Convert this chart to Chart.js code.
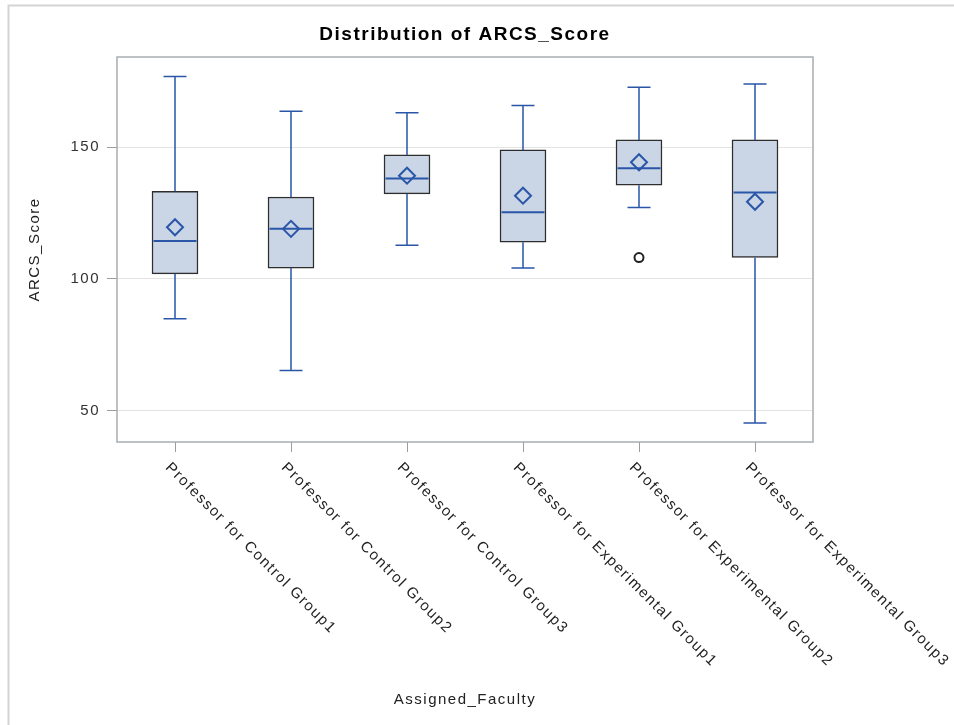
<!DOCTYPE html>
<html><head><meta charset="utf-8">
<script src="https://cdn.jsdelivr.net/npm/chart.js@4"></script>
<style>html,body{margin:0;padding:0;background:#fff}#wrap{width:954px;height:725px;position:relative}canvas{display:block}</style>
</head><body><div id="wrap"><canvas id="c" width="954" height="725"></canvas></div>
<script>
const categories = ['Professor for Control Group1','Professor for Control Group2','Professor for Control Group3','Professor for Experimental Group1','Professor for Experimental Group2','Professor for Experimental Group3'];
const whiskerLow  = [84.8, 65.2, 112.8, 104.1, 127.1, 45.2];
const q1          = [101.9, 104.1, 132.3, 113.9, 135.6, 108.1];
const median      = [114.4, 119.0, 138.1, 125.3, 142.0, 132.8];
const q3          = [133.3, 131.1, 147.1, 149.0, 152.8, 152.8];
const whiskerHigh = [176.9, 163.7, 163.1, 165.9, 172.8, 174.0];
const means       = [119.6, 119.0, 139.2, 131.6, 144.3, 129.3];
const outliers    = [null, null, null, null, 108.1, null];
const yTicks = [50, 100, 150];
const chartTitle = 'Distribution of ARCS_Score';
const xTitle = 'Assigned_Faculty';
const yTitle = 'ARCS_Score';

const BLUE = '#2A56A8';
const FONT = "'Liberation Sans', Arial, sans-serif";

const boxPlugin = {
  id: 'boxplot',
  beforeDraw(chart) {
    const ctx = chart.ctx;
    ctx.save();
    ctx.fillStyle = '#fff';
    ctx.fillRect(0, 0, chart.width, chart.height);
    ctx.strokeStyle = '#D4D4D4';
    ctx.lineWidth = 2;
    ctx.beginPath();
    ctx.moveTo(8.5, chart.height);
    ctx.lineTo(8.5, 5.5);
    ctx.lineTo(chart.width, 5.5);
    ctx.stroke();
    ctx.restore();
    ctx.letterSpacing = '1.5px';
  },
  beforeDatasetsDraw(chart) {
    const ctx = chart.ctx, a = chart.chartArea;
    ctx.save();
    ctx.strokeStyle = '#A9ADB1';
    ctx.lineWidth = 1.5;
    ctx.strokeRect(a.left, a.top, a.right - a.left, a.bottom - a.top);
    ctx.restore();
  },
  afterDatasetDraw(chart, args) {
    if (args.index !== 0) return;
    const ctx = chart.ctx, y = chart.scales.y;
    const meta = chart.getDatasetMeta(0);
    ctx.save();
    ctx.strokeStyle = BLUE;
    ctx.lineWidth = 1.5;
    meta.data.forEach((bar, i) => {
      const x = bar.x, w = bar.width;
      const cap = w / 2;
      const yl = y.getPixelForValue(whiskerLow[i]);
      const yh = y.getPixelForValue(whiskerHigh[i]);
      const y1 = y.getPixelForValue(q1[i]);
      const y3 = y.getPixelForValue(q3[i]);
      const ym = y.getPixelForValue(median[i]);
      ctx.beginPath();
      ctx.moveTo(x, y3); ctx.lineTo(x, yh);
      ctx.moveTo(x - cap / 2, yh); ctx.lineTo(x + cap / 2, yh);
      ctx.moveTo(x, y1); ctx.lineTo(x, yl);
      ctx.moveTo(x - cap / 2, yl); ctx.lineTo(x + cap / 2, yl);
      ctx.stroke();
      ctx.beginPath();
      ctx.lineWidth = 2;
      ctx.moveTo(x - w / 2 + 1.5, ym); ctx.lineTo(x + w / 2 - 1.5, ym);
      ctx.stroke();
      ctx.lineWidth = 1.5;
    });
    ctx.restore();
  },
  afterDraw(chart) {
    const ctx = chart.ctx, a = chart.chartArea, xs = chart.scales.x;
    ctx.save();
    ctx.letterSpacing = '1.5px';
    ctx.fillStyle = '#000';
    ctx.font = "bold 19px " + FONT;
    ctx.textAlign = 'center';
    ctx.textBaseline = 'middle';
    ctx.fillText(chartTitle, (a.left + a.right) / 2, 35);
    ctx.fillStyle = '#222';
    ctx.font = "15px " + FONT;
    ctx.textAlign = 'left';
    ctx.textBaseline = 'top';
    categories.forEach((c, i) => {
      const x = xs.getPixelForValue(i);
      ctx.save();
      ctx.translate(x - 2, a.bottom + 18);
      ctx.rotate(Math.PI / 4);
      ctx.fillText(c, 0, 0);
      ctx.restore();
    });
    ctx.restore();
  }
};

new Chart(document.getElementById('c'), {
  type: 'bar',
  data: {
    labels: categories,
    datasets: [
      {
        type: 'bar',
        data: categories.map((c, i) => [q1[i], q3[i]]),
        backgroundColor: '#CAD5E6',
        borderColor: '#2E2E2E',
        borderWidth: 1.5,
        borderSkipped: false,
        barThickness: 46,
        order: 3
      },
      {
        type: 'line',
        data: means,
        showLine: false,
        pointStyle: 'rectRot',
        pointRadius: 8,
        pointBorderWidth: 2,
        pointBorderColor: BLUE,
        pointBackgroundColor: 'rgba(0,0,0,0)',
        order: 1
      },
      {
        type: 'line',
        data: outliers,
        showLine: false,
        pointStyle: 'circle',
        pointRadius: 4.5,
        pointBorderWidth: 2,
        pointBorderColor: '#222',
        pointBackgroundColor: 'rgba(0,0,0,0)',
        order: 1
      }
    ]
  },
  options: {
    responsive: false,
    devicePixelRatio: 1,
    animation: false,
    events: [],
    layout: { padding: { top: 57, right: 141, left: 0, bottom: 0 } },
    plugins: { legend: { display: false }, tooltip: { enabled: false }, title: { display: false } },
    scales: {
      x: {
        offset: true,
        afterFit(axis) { axis.height = 283; },
        grid: { offset: false, drawOnChartArea: false, drawTicks: true, tickLength: 10, tickColor: '#9D9D9D', lineWidth: 1 },
        border: { display: false },
        ticks: { display: false },
        title: { display: true, text: xTitle, color: '#222', font: { size: 15, family: FONT }, padding: { top: 0, bottom: 16 } }
      },
      y: {
        min: 38,
        max: 184.3,
        afterFit(axis) { axis.width = 117; },
        afterBuildTicks(axis) { axis.ticks = yTicks.map(v => ({ value: v })); },
        grid: { color: '#E3E3E3', tickColor: '#9D9D9D', tickLength: 10, lineWidth: 1 },
        border: { display: false },
        ticks: { color: '#333', padding: 7, font: { size: 15, family: FONT } },
        title: { display: true, text: yTitle, color: '#222', font: { size: 15, family: FONT }, padding: { top: 26, bottom: 0 } }
      }
    }
  },
  plugins: [boxPlugin]
});
</script>
</body></html>
